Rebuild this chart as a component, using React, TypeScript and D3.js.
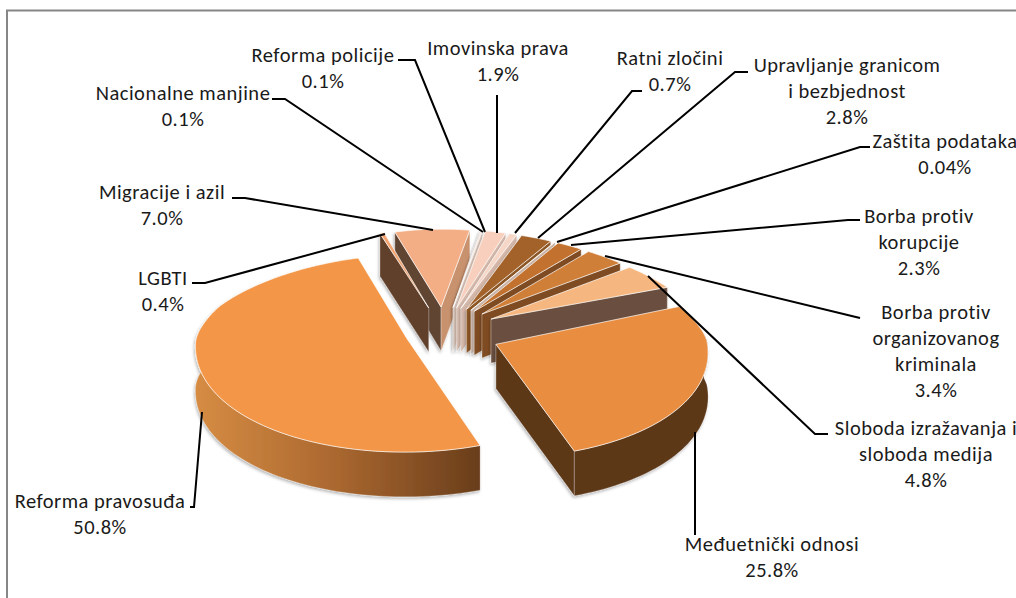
import React from "react";
import * as d3 from "d3";

const categories = ["Imovinska prava","Ratni zločini","Upravljanje granicom i bezbjednost","Zaštita podataka","Borba protiv korupcije","Borba protiv organizovanog kriminala","Sloboda izražavanja i sloboda medija","Međuetnički odnosi","Reforma pravosuđa","LGBTI","Migracije i azil","Nacionalne manjine","Reforma policije"];
const values = [1.9,0.7,2.8,0.04,2.3,3.4,4.8,25.8,50.8,0.4,7.0,0.1,0.1];
const explosion = [55,55,55,55,55,55,55,55,38,55,55,55,55];
const topColors = ["#f7cfbc","#f6d6c6","#a3622b","#e8c9b0","#c2722d","#d07f38","#f5b77f","#e98e41","#f39646","#f3a470","#f4ae85","#f7d8c8","#f7d8c8"];
const startWall = ["#d9c0b2","#d9c0b2","#8a5424","#cdb7aa","#8a5424","#8a5424","#6b5040","#5c3719","#6b3f1c","#61412c","#5f4433","#d9c0b2","#d9c0b2"];
const endWall = ["#d8bcae","#d5b8aa","#8f5826","#cdb7aa","#7f4c20","#7f4c20","#6b5040","#5c3719","#6b3f1c","#61412c","#c9926e","#dcc6ba","#dcc6ba"];
const labelLines = [["Imovinska prava","1.9%"],["Ratni zločini","0.7%"],["Upravljanje granicom","i bezbjednost","2.8%"],["Zaštita podataka","0.04%"],["Borba protiv","korupcije","2.3%"],["Borba protiv","organizovanog","kriminala","3.4%"],["Sloboda izražavanja i","sloboda medija","4.8%"],["Međuetnički odnosi","25.8%"],["Reforma pravosuđa","50.8%"],["LGBTI","0.4%"],["Migracije i azil","7.0%"],["Nacionalne manjine","0.1%"],["Reforma policije","0.1%"]];
const labelX = [498,670,847,945,919,936,926,772,100,163,162,183,323];
const labelY = [48,58,65,141,216,312,428,544,501,278,192,93,55];
const leaders: [number,number][][] = [
  [[497,95],[497,233]],
  [[642,91],[632,91],[515,233]],
  [[748,72],[735,72],[538,238]],
  [[870,147],[860,147],[557,242]],
  [[860,220],[848,220],[571,245]],
  [[860,318],[605,256]],
  [[828,434],[815,434],[648,276]],
  [[695,432],[695,535]],
  [[190,507],[194,507],[202,412]],
  [[192,283],[205,283],[385,234]],
  [[232,198],[245,198],[433,230]],
  [[272,99],[285,99],[483,232]],
  [[398,60],[415,60],[485,232]],
];

const W = 1016, H = 598;
const CX = 444, CY = 332, R = 205;
const FIRST = 10.2;
const toRad = (d:number)=>d*Math.PI/180;
const pie = d3.pie<number>().sort(null).startAngle(toRad(FIRST)).endAngle(toRad(FIRST+360)).value(d=>d);
const arcs = pie(values);
// foreshortening of the disc: depth v -> horizontal scale and height on screen
const sScale = d3.scaleLinear().domain([-215,-15,255]).range([1.09,1.03,0.84]);
const yScale = d3.scaleLinear().domain([-215,0,55,255]).range([-119,0,25,101]);

function project(u:number,v:number,drop:number):[number,number]{
  const s = sScale(v);
  return [CX+u*s, CY-yScale(v)+(drop?36+8*s:0)];
}
const line = d3.line<[number,number]>();

function Slice({i}:{i:number}){
  const a = arcs[i];
  const mid=(a.startAngle+a.endAngle)/2;
  const e=explosion[i];
  const ox=e*Math.sin(mid), oy=e*Math.cos(mid);
  const pt=(ang:number,r:number,drop:number)=>project(ox+r*Math.sin(ang),oy+r*Math.cos(ang),drop);
  const n=Math.max(4,Math.ceil((a.endAngle-a.startAngle)/0.03));
  const angs=d3.range(n+1).map(j=>a.startAngle+(a.endAngle-a.startAngle)*j/n);
  const top=line([pt(0,0,0),...angs.map(t=>pt(t,R,0))])+"Z";
  const wallS=line([pt(0,0,0),pt(a.startAngle,R,0),pt(a.startAngle,R,1),pt(0,0,1)])+"Z";
  const wallE=line([pt(0,0,0),pt(a.endAngle,R,0),pt(a.endAngle,R,1),pt(0,0,1)])+"Z";
  const front=angs.filter(t=>Math.cos(t)<0.12);
  const outer=front.length>1?line([...front.map(t=>pt(t,R,0)),...front.slice().reverse().map(t=>pt(t,R,1))])+"Z":null;
  return <g filter="url(#sh)">
    {Math.sin(a.startAngle)<0 && <path d={wallS} fill={startWall[i]} stroke="#fff" strokeOpacity={0.5} strokeWidth={0.6}/>}
    {Math.sin(a.endAngle)>0 && <path d={wallE} fill={endWall[i]} stroke="#fff" strokeOpacity={0.5} strokeWidth={0.6}/>}
    {outer && <path d={outer} fill={i===8?"url(#wallP)":endWall[i]} stroke="#fff" strokeOpacity={0.4} strokeWidth={0.6}/>}
    <path d={top} fill={topColors[i]} stroke="#fff" strokeOpacity={0.75} strokeWidth={0.9} strokeLinejoin="round"/>
  </g>;
}

const order = d3.range(values.length).sort((p,q)=>{
  const m=(i:number)=>Math.cos((arcs[i].startAngle+arcs[i].endAngle)/2);
  return m(q)-m(p);
});

export default function App(){
  return <svg width={W} height={H} viewBox={`0 0 ${W} ${H}`} style={{position:"fixed",left:0,top:0,background:"#fff"}} fontFamily="Carlito, Lato, sans-serif">
    <defs>
      <filter id="sh" x="-20%" y="-20%" width="140%" height="140%">
        <feDropShadow dx={-1} dy={2} stdDeviation={1.5} floodColor="#000" floodOpacity={0.28}/>
      </filter>
      <linearGradient id="wallP" gradientUnits="userSpaceOnUse" x1={195} x2={482} y1={0} y2={0}>
        <stop offset="0" stopColor="#d68c43"/>
        <stop offset="0.5" stopColor="#a9672f"/>
        <stop offset="1" stopColor="#683d1b"/>
      </linearGradient>
    </defs>
    <path d={`M7 ${H}V10.5H${W}`} fill="none" stroke="#868686" strokeWidth={2}/>
    {order.map(i=><Slice key={categories[i]} i={i}/>)}
    {leaders.map((l,i)=><path key={i} d={line(l)!} fill="none" stroke="#000" strokeWidth={2}/>)}
    {labelLines.map((ls,i)=><text key={i} fontSize={20.5} letterSpacing={0.5} fill="#1a1a1a" textAnchor="middle">
      {ls.map((t,j)=><tspan key={j} x={labelX[i]} y={labelY[i]+7+j*26}>{t}</tspan>)}
    </text>)}
  </svg>;
}
